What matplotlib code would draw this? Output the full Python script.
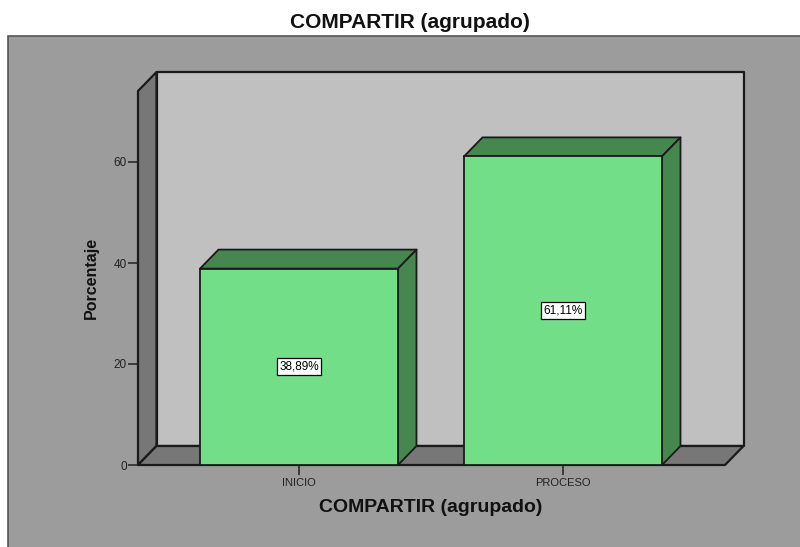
import matplotlib
matplotlib.use("Agg")
import matplotlib.pyplot as plt
from matplotlib.patches import Polygon, Rectangle

categories = ["INICIO", "PROCESO"]
values = [38.89, 61.11]
value_labels = ["38,89%", "61,11%"]
y_ticks = [0, 20, 40, 60]

W, H = 800, 547
GREEN = "#72de87"
GREEN_DARK = "#46874f"
WALL = "#c0c0c0"
WALL_DARK = "#777777"
PANEL = "#9c9c9c"
LINE = "#1a1a1a"

plt.rcParams["font.family"] = ["Liberation Sans", "DejaVu Sans"]

fig = plt.figure(figsize=(W / 100, H / 100), dpi=100, facecolor="white")

# panel gris de fondo
fig.add_artist(Rectangle((8 / W, -0.01), 1.0, 1 - 36 / H + 0.01, transform=fig.transFigure,
                         facecolor=PANEL, edgecolor="#555555", linewidth=1.2, zorder=-1))

# el eje coincide con el plano frontal de la caja 3D
left, right, top, bottom = 138, 725, 91, 465
ax = fig.add_axes([left / W, 1 - bottom / H, (right - left) / W, (bottom - top) / H])
ax.patch.set_visible(False)
per_cat = 264.0
per_unit = 5.05
ax.set_xlim((left - 299) / per_cat, (right - 299) / per_cat)
ax.set_ylim(0, (bottom - top) / per_unit)
for s in ax.spines.values():
    s.set_visible(False)

# profundidad en unidades de datos
dx = 18.5 / per_cat
dy = 19 / per_unit
x0, x1 = ax.get_xlim()
y0, y1 = ax.get_ylim()


def face(pts, color, z=1, lw=1.6):
    ax.add_patch(Polygon(pts, closed=True, facecolor=color, edgecolor=LINE,
                         linewidth=lw, joinstyle="round", clip_on=False, zorder=z))


# paredes de la caja
face([(x0 + dx, y0 + dy), (x1 + dx, y0 + dy), (x1 + dx, y1 + dy), (x0 + dx, y1 + dy)], WALL)
face([(x0, y0), (x0 + dx, y0 + dy), (x0 + dx, y1 + dy), (x0, y1)], WALL_DARK)
face([(x0, y0), (x1, y0), (x1 + dx, y0 + dy), (x0 + dx, y0 + dy)], WALL_DARK)

# barras
bar_w = 198 / per_cat
xpos = list(range(len(categories)))
for x, v in zip(xpos, values):
    l, r = x - bar_w / 2, x + bar_w / 2
    face([(l, v), (r, v), (r + dx, v + dy), (l + dx, v + dy)], GREEN_DARK, z=2, lw=1.3)
    face([(r, 0), (r + dx, dy), (r + dx, v + dy), (r, v)], GREEN_DARK, z=2, lw=1.3)
ax.bar(xpos, values, width=bar_w, color=GREEN, edgecolor=LINE, linewidth=1.3, zorder=3, clip_on=False)

for x, v, t in zip(xpos, values, value_labels):
    ax.text(x, v / 2, t, ha="center", va="center", fontsize=8.5, color="black", zorder=5,
            bbox=dict(boxstyle="square,pad=0.22", facecolor="white", edgecolor="black", linewidth=0.9))

ax.set_yticks(y_ticks)
ax.set_xticks(xpos)
ax.set_xticklabels(categories)
ax.tick_params(axis="y", length=7, width=1.1, color="#222222", labelsize=8.5, labelcolor="#222222", pad=1)
ax.tick_params(axis="x", length=7, width=1.1, color="#222222", labelsize=8, labelcolor="#222222", pad=2)

fig.text(410 / W, 1 - 22 / H, "COMPARTIR (agrupado)", ha="center", va="center",
         fontsize=15, fontweight="bold", color="#111111")
fig.text(431 / W, 1 - 507 / H, "COMPARTIR (agrupado)", ha="center", va="center",
         fontsize=14, fontweight="bold", color="#111111")
fig.text(91 / W, 1 - 278 / H, "Porcentaje", ha="center", va="center", rotation=90,
         fontsize=11.5, fontweight="bold", color="#111111")

fig.savefig("out.png", dpi=100)
